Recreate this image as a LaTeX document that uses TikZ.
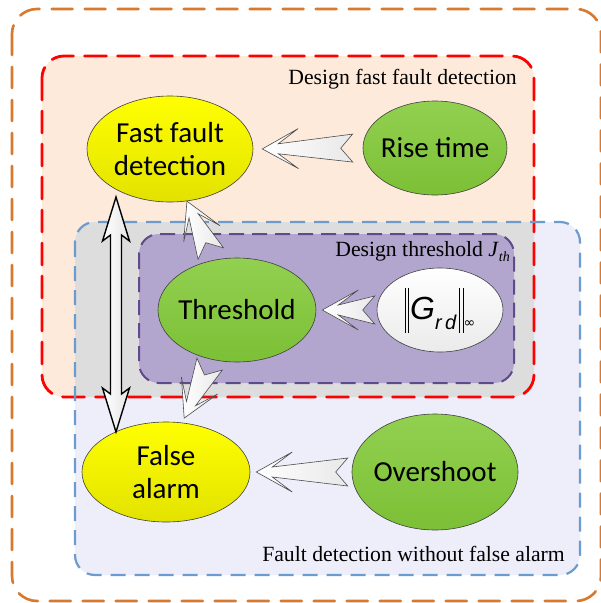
\documentclass[tikz,border=0pt]{standalone}
\usepackage{fontspec}
\setmainfont{Carlito}
\newfontfamily\serifface{Liberation Serif}
\newfontfamily\arialface{Liberation Sans}
\newfontfamily\symface{DejaVu Sans}
\usetikzlibrary{calc,shapes.geometric}

\definecolor{outerorange}{HTML}{D7792E}
\definecolor{peach}{HTML}{FDEADA}
\definecolor{lavender}{HTML}{EEEEFB}
\definecolor{overlapgray}{HTML}{DDDDDD}
\definecolor{lilac}{HTML}{B3A6CE}
\definecolor{plum}{HTML}{5F4A8B}
\definecolor{skyblue}{HTML}{6C9BD0}
\definecolor{leaf}{HTML}{92D050}
\definecolor{leafdark}{HTML}{7CC036}
\definecolor{lemon}{HTML}{FFFF00}
\definecolor{lemondark}{HTML}{E2E200}

\tikzset{
  bubble/.style={ellipse, draw=black!75, line width=0.6pt, inner ysep=0pt, inner xsep=-12pt,
    align=center, font=\fontsize{29}{33}\selectfont},
  yellowbubble/.style={bubble, top color=lemon, bottom color=lemondark},
  greenbubble/.style={bubble, top color=leaf, bottom color=leafdark},
  whitebubble/.style={bubble, top color=white, bottom color=black!8},
  fatbody/.style={draw=black!70, line width=0.6pt, left color=white, right color=black!9},
  twinbody/.style={draw=black, line width=1.4pt, left color=white, right color=black!10},
  zonelabel/.style={font=\serifface\fontsize{21.7}{24}\selectfont, inner sep=0pt},
  zoneline/.style={line width=2.6pt, line cap=round, dash pattern=on 21pt off 12pt},
}

% notched block arrow: #1 tail point, #2 tip point
\newcommand\fatarrow[2]{%
  \path (#1); \pgfgetlastxy{\fatxa}{\fatya}%
  \path (#2); \pgfgetlastxy{\fatxb}{\fatyb}%
  \pgfmathsetmacro\fatang{atan2(\fatya-\fatyb,\fatxa-\fatxb)}%
  \pgfmathsetmacro\fatlen{veclen(\fatxa-\fatxb,\fatya-\fatyb)}%
  \begin{scope}[shift={(#2)}, rotate=\fatang, x=1pt, y=1pt]
    \draw[fatbody] (0,0) -- (36,20) -- (16,5) -- (\fatlen,14)
      -- (\fatlen-12,0) -- (\fatlen,-14) -- (16,-5) -- (36,-20) -- cycle;
  \end{scope}}

% double-headed block arrow between two points
\newcommand\twinarrow[2]{%
  \path (#1); \pgfgetlastxy{\fatxa}{\fatya}%
  \path (#2); \pgfgetlastxy{\fatxb}{\fatyb}%
  \pgfmathsetmacro\fatang{atan2(\fatya-\fatyb,\fatxa-\fatxb)}%
  \pgfmathsetmacro\fatlen{veclen(\fatxa-\fatxb,\fatya-\fatyb)}%
  \begin{scope}[shift={(#2)}, rotate=\fatang, x=1pt, y=1pt]
    \draw[twinbody] (0,0) -- (44,13.5) -- (38,5.5) -- (\fatlen-38,5.5)
      -- (\fatlen-44,13.5) -- (\fatlen,0) -- (\fatlen-44,-13.5)
      -- (\fatlen-38,-5.5) -- (38,-5.5) -- (44,-13.5) -- cycle;
  \end{scope}}

\newcommand\normbar{\rule[-13pt]{0.9pt}{45pt}\hspace{2.6pt}\rule[-13pt]{0.9pt}{45pt}}

\begin{document}
\begin{tikzpicture}[x=1pt, y=-1pt]
\useasboundingbox (0,0) rectangle (601,603);
\fill[white] (0,0) rectangle (601,603);

% outer frame
\draw[outerorange, zoneline, rounded corners=25pt] (12,9) rectangle (601,601);

% zone fills
\fill[peach, rounded corners=22pt] (42,56) rectangle (534,397);
\fill[lavender, rounded corners=20pt] (75,222) rectangle (580,575);
\begin{scope}
  \clip[rounded corners=22pt] (42,56) rectangle (534,397);
  \fill[overlapgray, rounded corners=20pt] (75,222) rectangle (580,575);
\end{scope}
\draw[plum, fill=lilac, line width=2pt, dash pattern=on 15pt off 8pt, rounded corners=20pt]
  (139,234) rectangle (514,383);

% zone borders
\draw[red, zoneline, line width=2.8pt, dash pattern=on 22pt off 11pt, rounded corners=22pt]
  (42,56) rectangle (534,397);
\draw[skyblue, line width=2.2pt, dash pattern=on 15pt off 9pt, rounded corners=20pt]
  (75,222) rectangle (580,575);

% zone titles
\node[zonelabel, anchor=base east] (lfast) at (517,84) {Design fast fault detection};
\node[zonelabel, anchor=base east] (lthr) at (510,256)
  {Design threshold \textit{J}\raisebox{-5pt}{\fontsize{14}{14}\selectfont\itshape th}};
\node[zonelabel, anchor=base east] (lfalse) at (565,561) {Fault detection without false alarm};

% nodes
\node[yellowbubble, minimum width=166pt, minimum height=106pt] (ffd) at (170,149) {Fast fault\\detection};
\node[greenbubble, minimum width=144pt, minimum height=94pt] (rt) at (435,148) {Rise time};
\node[greenbubble, minimum width=158pt, minimum height=104pt] (thr) at (237,310) {Threshold};
\node[whitebubble, minimum width=126pt, minimum height=84pt] (g) at (440,310)
  {\normbar\hspace{1pt}{\arialface\itshape\fontsize{32}{32}\selectfont G}%
   \raisebox{-10pt}{\arialface\itshape\fontsize{20}{20}\selectfont r\,d}\hspace{3pt}%
   \normbar\raisebox{-8pt}{\symface\fontsize{14}{14}\selectfont ∞}};
\node[yellowbubble, minimum width=168pt, minimum height=100pt] (fa) at (166,472) {False\\alarm};
\node[greenbubble, minimum width=166pt, minimum height=116pt] (os) at (435,472) {Overshoot};

% arrow end points
\coordinate (a1t) at ($(rt.west)!10pt!(ffd.east)$);
\coordinate (a1h) at ($(ffd.east)!9pt!(rt.west)$);
\coordinate (a2t) at ($(thr.115)!7pt!(ffd.-72)$);
\coordinate (a2h) at (ffd.-72);
\coordinate (a3t) at ($(thr.-117)!5pt!(fa.72)$);
\coordinate (a3h) at ($(fa.72)!5pt!(thr.-117)$);
\coordinate (a4t) at ($(g.west)!2pt!(thr.east)$);
\coordinate (a4h) at ($(thr.east)!6pt!(g.west)$);
\coordinate (a5t) at ($(os.west)!4pt!(fa.east)$);
\coordinate (a5h) at ($(fa.east)!6pt!(os.west)$);
\coordinate (dtop) at ($(ffd.center)+(-54,48)$);
\coordinate (dbot) at ($(fa.center)+(-50,-40)$);

% arrows
\fatarrow{a1t}{a1h}
\fatarrow{a2t}{a2h}
\fatarrow{a3t}{a3h}
\fatarrow{a4t}{a4h}
\fatarrow{a5t}{a5h}
\twinarrow{dtop}{dbot}
\end{tikzpicture}
\end{document}
